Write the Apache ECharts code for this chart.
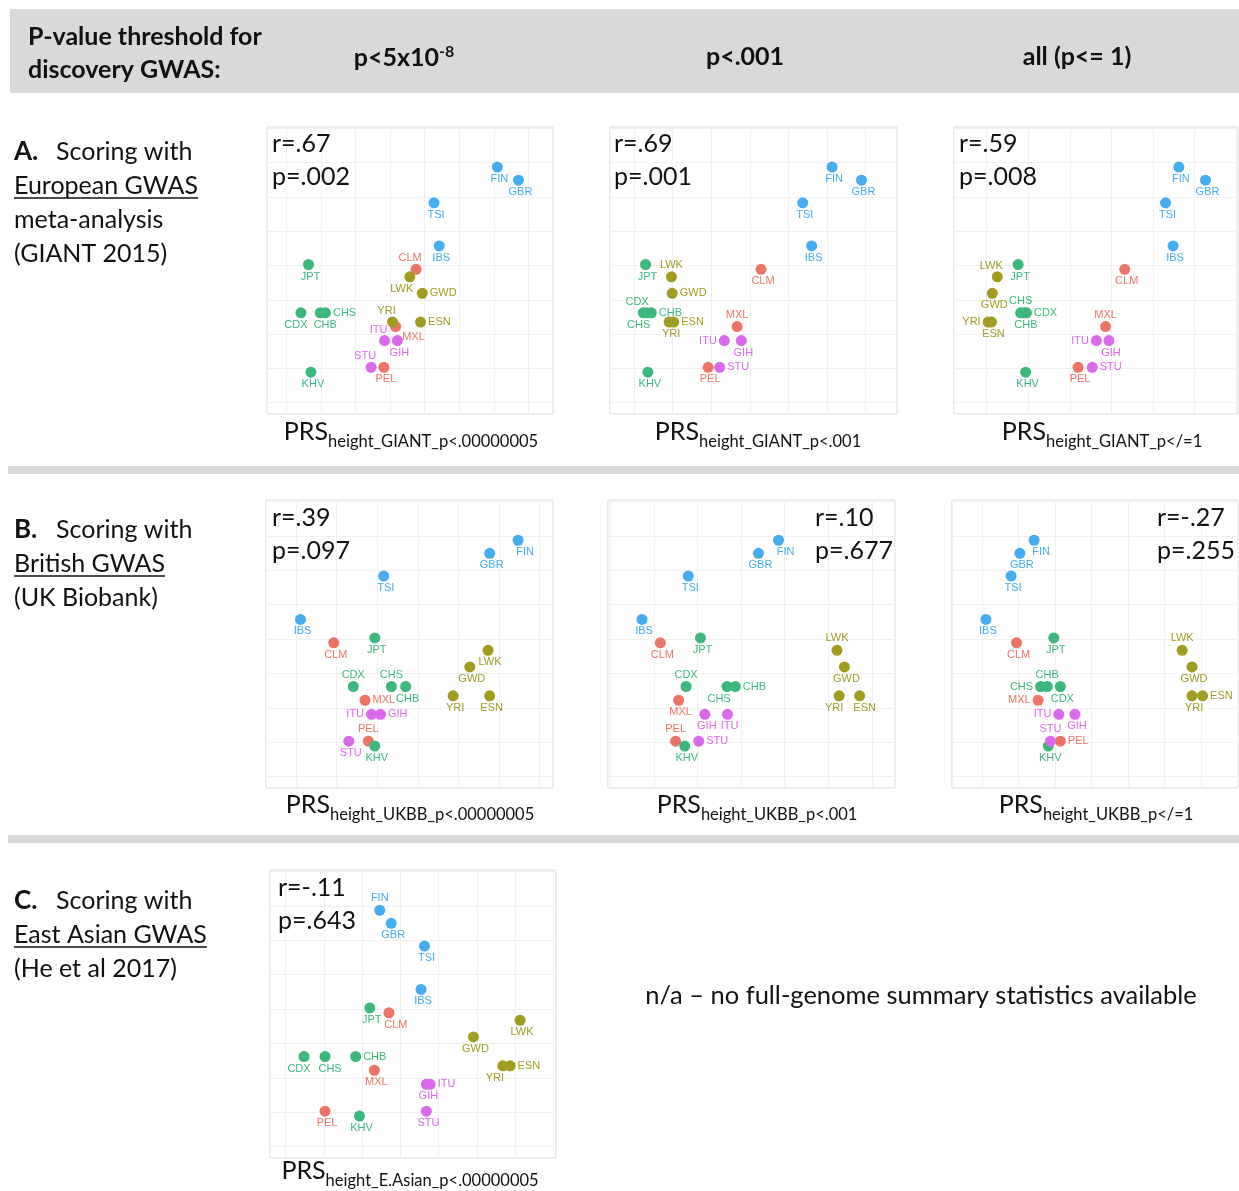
<!DOCTYPE html>
<html>
<head>
<meta charset="utf-8">
<script src="https://cdn.jsdelivr.net/npm/echarts@6/dist/echarts.min.js"></script>
<style>
  html, body { margin: 0; padding: 0; background: #ffffff; }
  #chart { width: 1239px; height: 1191px; }
</style>
</head>
<body>
<div id="chart"></div>
<script>
// 1000 Genomes populations and their continental groups
const populations = ['FIN','GBR','TSI','IBS','CLM','MXL','PEL','JPT','CDX','CHB','CHS','KHV','LWK','GWD','YRI','ESN','ITU','GIH','STU'];
const superpops   = ['EUR','EUR','EUR','EUR','AMR','AMR','AMR','EAS','EAS','EAS','EAS','EAS','AFR','AFR','AFR','AFR','SAS','SAS','SAS'];

// Population mean height (shared vertical axis of every panel)
const meanHeight = [6.87, 6.49, 5.83, 4.57, 3.89, 2.22, 1.03, 4.03, 2.62, 2.62, 2.62, 0.89, 3.67, 3.19, 2.35, 2.35, 1.81, 1.81, 1.03];

// Mean polygenic score per population, one array per GWAS / threshold
const prsGiant5e8   = [6.10, 6.71, 4.27, 4.42, 3.75, 3.16, 2.82, 0.64, 0.42, 0.98, 1.13, 0.71, 3.57, 3.93, 3.07, 3.88, 2.84, 3.21, 2.45];
const prsGiant001   = [5.13, 5.89, 4.37, 4.60, 3.29, 2.67, 1.92, 0.30, 0.24, 0.45, 0.33, 0.36, 0.97, 0.99, 0.91, 1.03, 2.34, 2.78, 2.22];
const prsGiantAll   = [4.62, 5.26, 4.30, 4.48, 3.32, 2.86, 2.20, 0.76, 0.96, 0.90, 0.82, 0.94, 0.26, 0.14, 0.04, 0.12, 2.64, 2.94, 2.54];
const prsUkbb5e8    = [5.47, 4.77, 2.16, 0.11, 0.93, 1.70, 1.78, 1.94, 1.41, 2.70, 2.35, 1.94, 4.73, 4.28, 3.87, 4.77, 1.86, 2.08, 1.30];
const prsUkbb001    = [2.86, 2.40, 0.79, -0.27, 0.15, 0.57, 0.50, 1.07, 0.74, 1.87, 1.68, 0.71, 4.20, 4.37, 4.25, 4.72, 1.69, 1.17, 1.03];
const prsUkbbAll    = [1.43, 1.04, 0.80, 0.11, 0.95, 1.54, 2.15, 1.97, 2.15, 1.79, 1.61, 1.82, 5.49, 5.76, 5.76, 6.05, 2.11, 2.55, 1.88];
const prsEAsian5e8  = [2.46, 2.76, 3.63, 3.54, 2.70, 2.32, 1.03, 2.20, 0.48, 1.83, 1.03, 1.93, 6.13, 4.91, 5.68, 5.87, 3.78, 3.68, 3.68];

// Correlation statistics printed in each panel
const statR = ['r=.67', 'r=.69', 'r=.59', 'r=.39', 'r=.10', 'r=-.27', 'r=-.11'];
const statP = ['p=.002', 'p=.001', 'p=.008', 'p=.097', 'p=.677', 'p=.255', 'p=.643'];

// Axis title subscripts
const axisSub = [
  'height_GIANT_p<.00000005', 'height_GIANT_p<.001', 'height_GIANT_p</=1',
  'height_UKBB_p<.00000005', 'height_UKBB_p<.001', 'height_UKBB_p</=1',
  'height_E.Asian_p<.00000005'
];

// Column headers
const thresholdHeaders = ['p<.001', 'all (p<= 1)'];

// ---------------------------------------------------------------------------
// Styling and layout
const groupColor = { EUR: '#45acef', AMR: '#ec7466', EAS: '#3db87c', AFR: '#a09c22', SAS: '#da68ea' };
const sansUI = 'Lato, "Open Sans", sans-serif';
const labelFont = '"Liberation Sans", Arial, sans-serif';

// label placement codes per panel, in population order
const labelSides = [
  ['b','b','b','b','tl','rb','b','b','bL','bR','r','b','bl','r','tl','r','tl','b','tl'],
  ['b','b','b','b','b','t','b','b','tl','r','bl','b','t','r','b','r','l','b','r'],
  ['b','b','b','b','b','t','b','b','r','b','t','b','tl','b','l','b','l','b','r'],
  ['br','b','b','b','b','r','t','b','t','b','t','b','b','b','b','b','l','r','b'],
  ['br','b','b','b','b','b','t','b','t','r','bl','b','t','b','bL','bR','b','b','r'],
  ['br','b','b','b','b','l','r','b','b','t','l','b','t','b','b','r','l','b','t'],
  ['t','b','b','b','br','b','b','b','bL','r','bR','b','b','b','bl','r','r','b','b']
];

const panels = [
  { x: prsGiant5e8,  rect: [267, 127, 286, 287], xr: [-0.56, 7.71], stat: 272,  statY: 144, title: [411, 435] },
  { x: prsGiant001,  rect: [610, 127, 287, 287], xr: [-0.62, 6.81], stat: 614,  statY: 144, title: [758, 435] },
  { x: prsGiantAll,  rect: [954, 127, 284, 287], xr: [-0.78, 6.04], stat: 959,  statY: 144, title: [1102, 435] },
  { x: prsUkbb5e8,   rect: [266, 500, 287, 288], xr: [-0.74, 6.33], stat: 272,  statY: 518, title: [410, 808] },
  { x: prsUkbb001,   rect: [608, 500, 287, 288], xr: [-1.05, 5.53], stat: 815,  statY: 518, title: [757, 808] },
  { x: prsUkbbAll,   rect: [952, 500, 286, 288], xr: [-0.82, 7.02], stat: 1157, statY: 518, title: [1096, 808] },
  { x: prsEAsian5e8, rect: [270, 870, 286, 288], xr: [-0.41, 7.07], stat: 278,  statY: 888, title: [410, 1174] }
];

function labelStyle(code) {
  const base = { show: true, formatter: '{b}', fontFamily: labelFont, fontSize: 11 };
  switch (code) {
    case 't':  return Object.assign(base, { position: 'top', distance: 1 });
    case 'r':  return Object.assign(base, { position: 'right', distance: 2 });
    case 'l':  return Object.assign(base, { position: 'left', distance: 2 });
    case 'tl': return Object.assign(base, { position: 'top', distance: 0, offset: [-6, 0] });
    case 'bl': return Object.assign(base, { position: 'bottom', distance: 1, offset: [-8, 0] });
    case 'br': return Object.assign(base, { position: 'bottom', distance: 1, offset: [7, 0] });
    case 'bL': return Object.assign(base, { position: 'bottom', distance: 1, offset: [-5, 0] });
    case 'bR': return Object.assign(base, { position: 'bottom', distance: 1, offset: [5, 0] });
    case 'rb': return Object.assign(base, { position: 'right', distance: 1, offset: [0, 10] });
    default:   return Object.assign(base, { position: 'bottom', distance: 1, offset: [2, 0] });
  }
}

const grids = [], xAxes = [], yAxes = [], series = [];
panels.forEach((pn, i) => {
  grids.push({
    left: pn.rect[0], top: pn.rect[1], width: pn.rect[2], height: pn.rect[3],
    show: true, borderColor: '#d4d4d4', borderWidth: 1, backgroundColor: '#ffffff',
    containLabel: false, outerBoundsMode: 'none'
  });
  const axisCommon = {
    gridIndex: i, type: 'value', scale: true,
    axisLine: { show: false }, axisTick: { show: false }, axisLabel: { show: false },
    splitLine: { show: true, lineStyle: { color: '#f0f0f0', width: 1 } }
  };
  xAxes.push(Object.assign({}, axisCommon, { min: pn.xr[0], max: pn.xr[1], splitNumber: Math.round(pn.xr[1] - pn.xr[0]) }));
  yAxes.push(Object.assign({}, axisCommon, { min: -0.33, max: 8.04, splitNumber: 8 }));
  series.push({
    type: 'scatter', xAxisIndex: i, yAxisIndex: i,
    symbol: 'circle', symbolSize: 11, silent: true, animation: false,
    data: populations.map((name, k) => ({
      name: name,
      value: [pn.x[k], meanHeight[k]],
      itemStyle: { color: groupColor[superpops[k]], opacity: 1 },
      label: Object.assign(labelStyle(labelSides[i][k]), { color: groupColor[superpops[k]] })
    }))
  });
});

// text width helper for underlines
const measureCtx = document.createElement('canvas').getContext('2d');
function textWidth(str, font) { measureCtx.font = font; return measureCtx.measureText(str).width; }

const graphics = [];
function addText(txt, x, y, opts) {
  const o = opts || {};
  graphics.push({
    type: 'text', x: x, y: y, silent: true, z: 100,
    style: {
      text: txt, fill: o.fill || '#111111',
      font: o.font || ('25px ' + sansUI),
      align: o.align || 'left', verticalAlign: 'middle',
      textAlign: o.align || 'left', textVerticalAlign: 'middle',
      rich: o.rich
    }
  });
}
function addRect(x, y, w, h, color) {
  graphics.push({ type: 'rect', shape: { x: x, y: y, width: w, height: h }, style: { fill: color }, silent: true, z: 1 });
}
function addUnderline(x, y, w) {
  graphics.push({ type: 'line', shape: { x1: x, y1: y, x2: x + w, y2: y }, style: { stroke: '#111111', lineWidth: 1.5 }, silent: true, z: 100 });
}

// header band and row separators
addRect(10, 9, 1229, 84, '#d9d9d9');
addRect(8, 466, 1231, 8, '#d9d9d9');
addRect(8, 835, 1231, 8, '#d9d9d9');

const boldFont = 'bold 25px ' + sansUI;
addText('P-value threshold for', 28, 37, { font: boldFont });
addText('discovery GWAS:', 28, 70, { font: boldFont });
addText('{m|p<5x10}{s|-8}', 404, 57, {
  align: 'center',
  rich: {
    m: { font: boldFont, fill: '#111111', verticalAlign: 'bottom' },
    s: { font: 'bold 16px ' + sansUI, fill: '#111111', verticalAlign: 'bottom', padding: [0, 0, 10, 0] }
  }
});
addText(thresholdHeaders[0], 745, 57, { font: boldFont, align: 'center' });
addText(thresholdHeaders[1], 1077, 57, { font: boldFont, align: 'center' });

// row descriptions
const rowFont = '25px ' + sansUI;
function rowLabel(letter, lines, y0, underlineIdx) {
  addText(letter, 14, y0, { font: 'bold 26px ' + sansUI });
  addText('Scoring with', 56, y0, { font: rowFont });
  lines.forEach((ln, j) => {
    const y = y0 + 34 * (j + 1);
    addText(ln, 14, y, { font: rowFont });
    if (j === underlineIdx) addUnderline(14, y + 12, textWidth(ln, rowFont));
  });
}
rowLabel('A.', ['European GWAS', 'meta-analysis', '(GIANT 2015)'], 152, 0);
rowLabel('B.', ['British GWAS', '(UK Biobank)'], 530, 0);
rowLabel('C.', ['East Asian GWAS', '(He et al 2017)'], 901, 0);

addText('n/a \u2013 no full-genome summary statistics available', 921, 996, { font: '25.5px ' + sansUI, align: 'center' });

// per-panel statistics and axis titles
const statFont = '25px ' + sansUI;
panels.forEach((pn, i) => {
  addText(statR[i], pn.stat, pn.statY, { font: statFont });
  addText(statP[i], pn.stat, pn.statY + 33, { font: statFont });
  addText('{m|PRS}{s|' + axisSub[i] + '}', pn.title[0], pn.title[1], {
    align: 'center',
    rich: {
      m: { font: '25px ' + sansUI, fill: '#111111', verticalAlign: 'bottom', padding: [0, 0, 6, 0] },
      s: { font: '16.5px ' + sansUI, fill: '#111111', verticalAlign: 'bottom' }
    }
  });
});

const chart = echarts.init(document.getElementById('chart'), null, { renderer: 'canvas' });
chart.setOption({
  animation: false,
  backgroundColor: '#ffffff',
  grid: grids,
  xAxis: xAxes,
  yAxis: yAxes,
  series: series,
  graphic: { elements: graphics }
});
</script>
</body>
</html>
